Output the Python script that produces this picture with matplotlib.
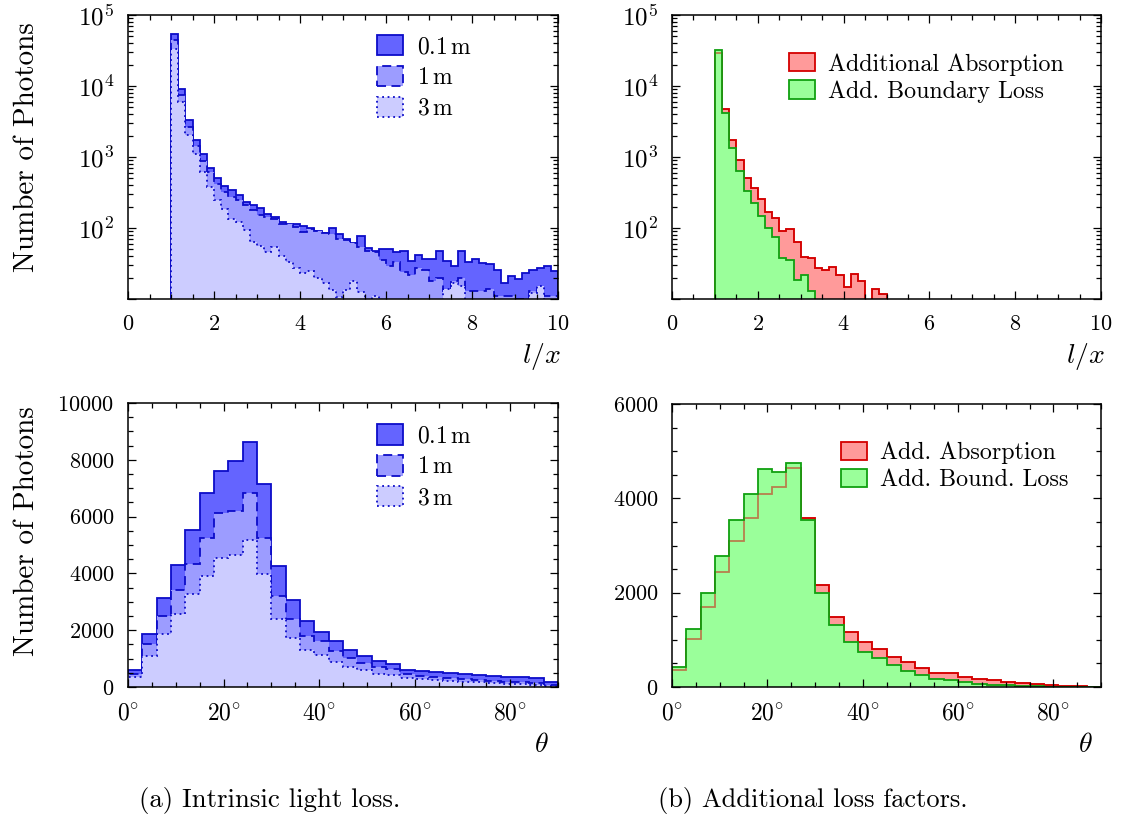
#Librerias
import numpy as np
import matplotlib
matplotlib.use("Agg")
import matplotlib.pyplot as plt
from matplotlib.patches import Patch
from matplotlib.ticker import MultipleLocator, FixedLocator, LogLocator, NullFormatter

plt.rcParams['font.family'] = 'serif'
plt.rcParams['font.serif'] = ['cmr10']
plt.rcParams['mathtext.fontset'] = 'cm'
plt.rcParams['axes.formatter.use_mathtext'] = True
plt.rcParams['font.size'] = 16

#1. Datos: histogramas de l/x (60 bins de 0 a 10)
lx_edges = np.linspace(0, 10, 61)

lx_01m = [0, 0, 0, 0, 0, 0,
          53500, 9100, 3300, 1720, 1110, 700, 512, 391, 338, 295,
          232, 208, 192, 159, 143, 122, 115, 113, 106, 100,
          91, 85, 100, 81, 71, 62, 76, 52, 47, 50,
          51, 46, 48, 34, 42, 37, 37, 47, 34, 29,
          48, 33, 37, 32, 31, 26, 17, 21, 19, 23,
          26, 27, 29, 25]
lx_1m = [0, 0, 0, 0, 0, 0,
         44000, 7400, 2650, 1430, 880, 615, 421, 321, 273, 245,
         208, 177, 151, 143, 135, 115, 113, 103, 88, 98,
         91, 85, 83, 71, 67, 62, 54, 48, 46, 36,
         29, 33, 24, 22, 27, 26, 18, 20, 13, 18,
         20, 13, 13, 13, 14, 11, 11, 11, 10, 10,
         13, 14, 11, 11]
lx_3m = [0, 0, 0, 0, 0, 0,
         33600, 6000, 2020, 1110, 615, 378, 251, 187, 135, 122,
         93, 64, 56, 46, 54, 40, 33, 27, 23, 25,
         20, 17, 13.5, 10.5, 13.5, 18, 12.5, 9, 11, 9,
         8, 9, 8, 8, 9, 8, 7, 8, 14, 17,
         15, 8, 7, 8, 7, 8, 7, 8, 7, 8,
         12, 15, 8, 7]

lx_absorption = [0, 0, 0, 0, 0, 0,
                 29400, 4690, 1754, 916, 506, 370, 256, 168, 138, 91,
                 98, 64, 39, 38, 27, 26, 28, 21.5, 14.8, 22.7,
                 18, 0, 14, 11.6] + [0] * 30
lx_boundary = [0, 0, 0, 0, 0, 0,
               31800, 4170, 1340, 628, 336, 225, 148, 100, 75, 38,
               36, 18.7, 21.5, 13] + [0] * 40

#2. Datos: histogramas de theta (30 bins de 0 a 90 grados)
theta_edges = np.linspace(0, 90, 31)

theta_01m = [600, 1875, 3135, 4313, 5532, 6815, 7600, 7964, 8643, 7137,
             4260, 3070, 2340, 1930, 1620, 1318, 1090, 914, 826, 604,
             563, 533, 492, 457, 428, 380, 363, 345, 305, 170]
theta_1m = [446, 1501, 2487, 3425, 4317, 5255, 6135, 6182, 6839, 5255,
            3191, 2393, 1806, 1619, 1280, 1032, 845, 704, 645, 446,
            399, 352, 317, 282, 246, 211, 188, 176, 141, 82]
theta_3m = [352, 1079, 1853, 2581, 3261, 3918, 4551, 4645, 5185, 3965,
            2381, 1736, 1314, 1138, 870, 704, 587, 469, 411, 328,
            282, 235, 211, 188, 164, 141, 117, 106, 82, 47]

theta_absorption = [353, 1025, 1689, 2438, 3095, 3576, 4099, 4247, 4643, 3583,
                    2163, 1477, 1173, 961, 806, 636, 523, 403, 304, 297,
                    212, 163, 141, 106, 85, 64, 42, 28, 14, 7]
theta_boundary = [424, 1223, 1993, 2777, 3548, 4099, 4615, 4565, 4749, 3541,
                  1993, 1307, 947, 749, 610, 466, 339, 247, 170, 141,
                  99, 71, 49, 35, 21, 14, 7, 4, 3, 2]

#Colores
blue_edge = '#0c0cc8'
fill_01m = '#6464ff'
fill_1m = '#9c9cff'
fill_3m = '#ccccff'
red_edge = '#d40000'
red_fill = '#ff9a9a'
green_edge = '#10a010'
green_fill = '#9aff9a'


def draw_hist(ax, edges, vals, face, edge, ls, base=0.0):
    vals = np.asarray(vals, dtype=float)
    if base > 0:
        vals = np.where(vals > 0, vals, base)
    ax.stairs(vals, edges, baseline=base, fill=True, facecolor=face, edgecolor='none')
    ax.stairs(vals, edges, baseline=base, color=edge, linestyle=ls, lw=1.3)


def style_axes(ax):
    ax.tick_params(which='both', direction='in', top=True, right=True, width=0.9)
    ax.tick_params(which='major', length=6)
    ax.tick_params(axis='x', which='major', pad=11)
    ax.tick_params(axis='y', which='major', pad=10)
    ax.tick_params(which='minor', length=3.5)
    for s in ax.spines.values():
        s.set_linewidth(1.1)


#3. Figura
fig = plt.figure(figsize=(11.24, 8.19), dpi=100)
W, H = 1124, 819


def px_axes(x0, y0, x1, y1):
    return fig.add_axes([x0 / W, 1 - y1 / H, (x1 - x0) / W, (y1 - y0) / H])


ax_a1 = px_axes(128, 15, 558, 299)
ax_b1 = px_axes(672, 15, 1101, 299)
ax_a2 = px_axes(128, 403, 558, 687)
ax_b2 = px_axes(672, 404, 1101, 687)

#Panel superior izquierdo
draw_hist(ax_a1, lx_edges, lx_01m, fill_01m, blue_edge, '-', base=1)
draw_hist(ax_a1, lx_edges, lx_1m, fill_1m, blue_edge, (0, (5, 3)), base=1)
draw_hist(ax_a1, lx_edges, lx_3m, fill_3m, blue_edge, (0, (1, 2)), base=1)

#Panel superior derecho
abs_vals = np.where(np.asarray(lx_absorption) > 0, lx_absorption, 1)
bnd_vals = np.where(np.asarray(lx_boundary) > 0, lx_boundary, 1)
ax_b1.stairs(abs_vals, lx_edges, baseline=1, fill=True, facecolor=red_fill, edgecolor='none')
ax_b1.stairs(abs_vals, lx_edges, baseline=1, color=red_edge, lw=1.3)
ax_b1.stairs(bnd_vals, lx_edges, baseline=1, fill=True, facecolor=green_fill, edgecolor='none')
ax_b1.stairs(abs_vals, lx_edges, baseline=1, color=red_edge, lw=1.3, alpha=0.5)
ax_b1.stairs(bnd_vals, lx_edges, baseline=1, color=green_edge, lw=1.3)

#Panel inferior izquierdo
draw_hist(ax_a2, theta_edges, theta_01m, fill_01m, blue_edge, '-')
draw_hist(ax_a2, theta_edges, theta_1m, fill_1m, blue_edge, (0, (5, 3)))
draw_hist(ax_a2, theta_edges, theta_3m, fill_3m, blue_edge, (0, (1, 2)))

#Panel inferior derecho
draw_hist(ax_b2, theta_edges, theta_absorption, red_fill, red_edge, '-')
ax_b2.stairs(theta_boundary, theta_edges, baseline=0, fill=True, facecolor=green_fill, edgecolor='none')
ax_b2.stairs(theta_absorption, theta_edges, baseline=0, color=red_edge, lw=1.3, alpha=0.5)
ax_b2.stairs(theta_boundary, theta_edges, baseline=0, color=green_edge, lw=1.3)

#Ejes logaritmicos
for ax in (ax_a1, ax_b1):
    ax.set_yscale('log')
    ax.set_xlim(0, 10)
    ax.set_ylim(10, 1e5)
    ax.xaxis.set_major_locator(MultipleLocator(2))
    ax.xaxis.set_minor_locator(MultipleLocator(0.5))
    ax.yaxis.set_major_locator(FixedLocator([1e1, 1e2, 1e3, 1e4, 1e5]))
    ax.yaxis.set_minor_locator(LogLocator(base=10, subs=np.arange(2, 10)))
    ax.yaxis.set_minor_formatter(NullFormatter())
    ax.set_yticklabels(['', r'$10^{2}$', r'$10^{3}$', r'$10^{4}$', r'$10^{5}$'], fontsize=18)
    style_axes(ax)

#Ejes lineales en theta
theta_ticks = [0, 20, 40, 60, 80]
for ax, ymax in ((ax_a2, 10000), (ax_b2, 6000)):
    ax.set_xlim(0, 90)
    ax.set_ylim(0, ymax)
    ax.set_xticks(theta_ticks)
    ax.set_xticklabels([r'$%d^{\circ}$' % t for t in theta_ticks], fontsize=17)
    ax.xaxis.set_minor_locator(MultipleLocator(5))
    ax.yaxis.set_major_locator(MultipleLocator(2000))
    ax.yaxis.set_minor_locator(MultipleLocator(500))
    style_axes(ax)

#4. Leyendas
h_blue = [Patch(facecolor=fill_01m, edgecolor=blue_edge, lw=1.3, ls='-'),
          Patch(facecolor=fill_1m, edgecolor=blue_edge, lw=1.3, ls=(0, (5, 3))),
          Patch(facecolor=fill_3m, edgecolor=blue_edge, lw=1.3, ls=(0, (1, 2)))]
l_blue = [r'$0.1\,\mathrm{m}$', r'$1\,\mathrm{m}$', r'$3\,\mathrm{m}$']
h_rg = [Patch(facecolor=red_fill, edgecolor=red_edge, lw=1.3),
        Patch(facecolor=green_fill, edgecolor=green_edge, lw=1.3)]

for ax, top in ((ax_a1, 0.93), (ax_a2, 0.925)):
    ax.legend(h_blue, l_blue, loc='upper left', bbox_to_anchor=(0.579, top), frameon=False,
              fontsize=17, borderpad=0, borderaxespad=0, handlelength=1.1, handleheight=0.95,
              handletextpad=0.6, labelspacing=0.32)

ax_b1.legend(h_rg, ['Additional Absorption', 'Add. Boundary Loss'], loc='upper left',
             bbox_to_anchor=(0.272, 0.866), frameon=False, fontsize=17.3, borderpad=0,
             borderaxespad=0, handlelength=1.08, handleheight=0.8, handletextpad=0.55,
             labelspacing=0.2)
ax_b2.legend(h_rg, ['Add. Absorption', 'Add. Bound. Loss'], loc='upper left',
             bbox_to_anchor=(0.394, 0.867), frameon=False, fontsize=17.3, borderpad=0,
             borderaxespad=0, handlelength=1.08, handleheight=0.8, handletextpad=0.55,
             labelspacing=0.18)

#5. Textos de ejes y pies de figura
fig.text(27 / W, 1 - 147 / H, 'Number of Photons', rotation=90, ha='center', va='center', fontsize=21)
fig.text(27 / W, 1 - 531 / H, 'Number of Photons', rotation=90, ha='center', va='center', fontsize=21)
fig.text(541 / W, 1 - 356 / H, r'$l/x$', ha='center', va='center', fontsize=20)
fig.text(1085 / W, 1 - 356 / H, r'$l/x$', ha='center', va='center', fontsize=20)
fig.text(541 / W, 1 - 745 / H, r'$\theta$', ha='center', va='center', fontsize=20)
fig.text(1085 / W, 1 - 745 / H, r'$\theta$', ha='center', va='center', fontsize=20)
fig.text(270 / W, 1 - 800 / H, '(a) Intrinsic light loss.', ha='center', va='center', fontsize=19.3)
fig.text(813 / W, 1 - 800 / H, '(b) Additional loss factors.', ha='center', va='center', fontsize=19)

plt.savefig('out.png', dpi=100)
